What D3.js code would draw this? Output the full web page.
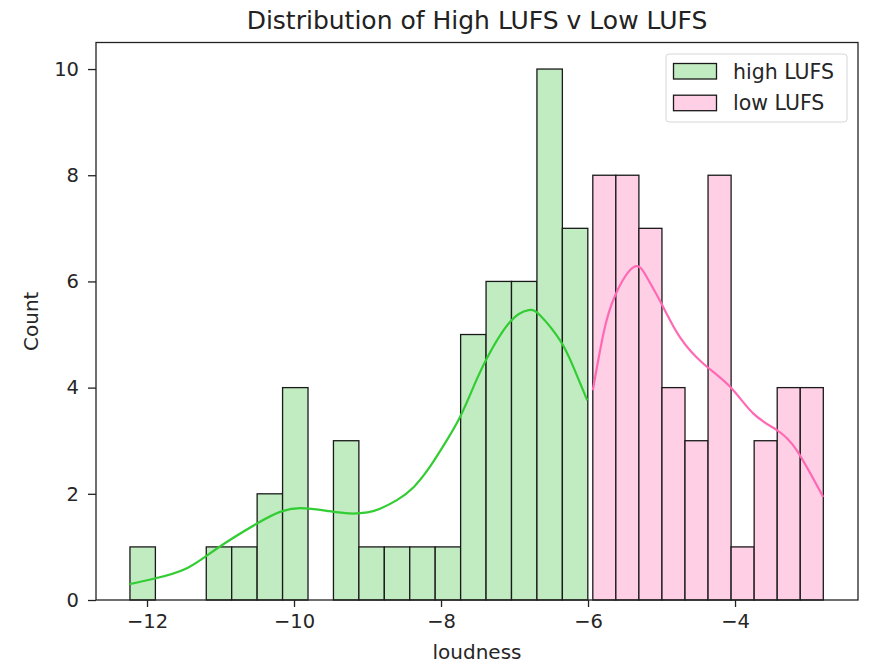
<!DOCTYPE html>
<html>
<head>
<meta charset="utf-8">
<script src="https://cdn.jsdelivr.net/npm/d3@7"></script>
<style>
  body { margin: 0; background: #fff; }
  svg { display: block; font-family: "DejaVu Sans", sans-serif; }
</style>
</head>
<body>
<svg id="chart" width="869" height="664"></svg>
<script>
// ---- data ----
const highCounts = [1,0,0,1,1,2,4,0,3,1,1,1,1,5,6,6,10,7];
const highRange = [-12.232, -6.003];
const lowCounts = [8,8,7,4,3,8,1,3,4,4];
const lowRange = [-5.935, -2.799];
const highKdeX = [-12.24,-11.91,-11.456,-11.048,-10.504,-10.19,-9.917,-9.552,-9.25,-9.0,-8.83,-8.60,-8.37,-8.15,-7.92,-7.74,-7.56,-7.377,-7.06,-6.81,-6.65,-6.38,-6.20,-6.01];
const highKdeY = [0.30,0.40,0.60,0.97,1.44,1.66,1.73,1.68,1.63,1.65,1.72,1.88,2.13,2.51,3.01,3.45,4.01,4.55,5.24,5.46,5.36,4.89,4.39,3.76];
const lowKdeX = [-5.935,-5.79,-5.63,-5.38,-5.20,-5.00,-4.75,-4.43,-4.07,-3.75,-3.43,-3.16,-2.80];
const lowKdeY = [3.95,5.02,5.74,6.27,6.08,5.58,4.95,4.45,4.02,3.51,3.20,2.82,1.94];
const xTicks = [-12,-10,-8,-6,-4];
const yTicks = [0,2,4,6,8,10];
const seriesNames = ["high LUFS","low LUFS"];
const lineColors = ["#32cd32","#ff69b4"];
const fillColors = ["#c1ecc1","#ffcfe6"];

// ---- layout ----
const svg = d3.select("#chart");
const L = 96, R = 858, T = 42.5, B = 600;
const x = d3.scaleLinear().domain([-12.694, -2.327]).range([L, R]);
const y = d3.scaleLinear().domain([0, 10.5]).range([B, T]);

function bins(counts, range) {
  const w = (range[1]-range[0])/counts.length;
  return counts.map((c,i)=>({x0: range[0]+i*w, x1: range[0]+(i+1)*w, c}));
}
const groups = [
  {bins: bins(highCounts, highRange), kx: highKdeX, ky: highKdeY},
  {bins: bins(lowCounts, lowRange), kx: lowKdeX, ky: lowKdeY}
];

const line = d3.line().x(d=>x(d[0])).y(d=>y(d[1])).curve(d3.curveNatural);

groups.forEach((g,gi)=>{
  svg.append("g").selectAll("rect").data(g.bins.filter(b=>b.c>0)).join("rect")
    .attr("x", d=>x(d.x0)).attr("width", d=>x(d.x1)-x(d.x0))
    .attr("y", d=>y(d.c)).attr("height", d=>y(0)-y(d.c))
    .attr("fill", fillColors[gi]).attr("stroke", "#1a1a1a").attr("stroke-width", 1.3);
});
groups.forEach((g,gi)=>{
  svg.append("path").datum(g.kx.map((v,i)=>[v,g.ky[i]]))
    .attr("d", line).attr("fill","none").attr("stroke", lineColors[gi]).attr("stroke-width", 2.2);
});

// axes
const xAxis = svg.append("g").attr("transform",`translate(0,${B})`)
  .call(d3.axisBottom(x).tickValues(xTicks).tickSize(7).tickPadding(7).tickFormat(d=>"\u2212"+Math.abs(d)));
const yAxis = svg.append("g").attr("transform",`translate(${L},0)`)
  .call(d3.axisLeft(y).tickValues(yTicks).tickSize(8).tickPadding(9));
[xAxis,yAxis].forEach(a=>{
  a.select(".domain").remove();
  a.selectAll("line").attr("stroke","#222").attr("stroke-width",1.3);
  a.selectAll("text").attr("font-size",19.5).attr("fill","#262626").attr("font-family","DejaVu Sans");
});
// frame
svg.append("rect").attr("x",L).attr("y",T).attr("width",R-L).attr("height",B-T)
  .attr("fill","none").attr("stroke","#222").attr("stroke-width",1.3);

// labels
svg.append("text").attr("x",(L+R)/2).attr("y",29).attr("text-anchor","middle")
  .attr("font-size",25).attr("fill","#222").text("Distribution of High LUFS v Low LUFS");
svg.append("text").attr("x",(L+R)/2).attr("y",659).attr("text-anchor","middle")
  .attr("font-size",20).attr("fill","#262626").text("loudness");
svg.append("text").attr("transform",`translate(38,${(T+B)/2}) rotate(-90)`).attr("text-anchor","middle")
  .attr("font-size",20).attr("fill","#262626").text("Count");

// legend
const lg = svg.append("g");
lg.append("rect").attr("x",666).attr("y",54).attr("width",181).attr("height",68).attr("rx",3)
  .attr("fill","rgba(255,255,255,0.8)").attr("stroke","#d6d6d6");
seriesNames.forEach((n,i)=>{
  lg.append("rect").attr("x",673.5).attr("y",63.5+i*31.7).attr("width",43).attr("height",15.5)
    .attr("fill",fillColors[i]).attr("stroke","#1a1a1a").attr("stroke-width",1.3);
  lg.append("text").attr("x",733).attr("y",78.5+i*31.7).attr("font-size",20.5).attr("fill","#262626").text(n);
});
</script>
</body>
</html>
